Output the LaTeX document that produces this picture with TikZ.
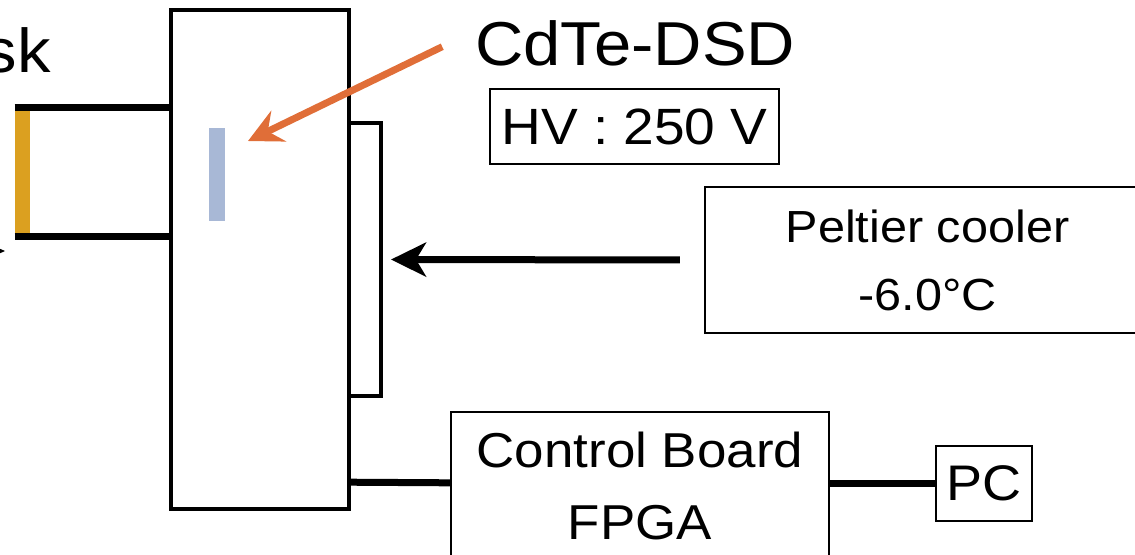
\documentclass[tikz,border=0pt]{standalone}
\usepackage{fontspec}
\setmainfont[FakeStretch=1.08]{Liberation Sans}
\usetikzlibrary{arrows.meta,calc}
\definecolor{WindowGold}{RGB}{219,160,32}
\definecolor{SensorBlue}{RGB}{168,184,214}
\definecolor{PointerOrange}{RGB}{224,110,56}

\begin{document}
\begin{tikzpicture}[x=0.5pt,y=-0.5pt,
  box/.style={draw,line width=1.2pt,inner sep=0pt,align=center},
  wire/.style={line width=3.5pt}]
\useasboundingbox (0,0) rectangle (1135,554);
\clip (0,0) rectangle (1135,554);
\node[draw,line width=2.2pt,minimum width=89pt,minimum height=249.5pt] (mainbox) at (260,259.5) {};
\node[draw,line width=2pt,minimum width=16pt,minimum height=136.5pt] (plate) at (365,259.5) {};
\node[fill=WindowGold,inner sep=0pt,minimum width=7.5pt,minimum height=64pt] (window) at (22.5,172) {};
\node[fill=SensorBlue,inner sep=0pt,minimum width=8pt,minimum height=46.5pt] (dsd) at (217,174.5) {};
\coordinate (dsdtip) at (248,141);
\node[anchor=base east,inner sep=0pt,font=\fontsize{31}{37}\selectfont] (mask) at (51,72) {sk};
\node[inner sep=0pt,font=\fontsize{31}{37}\selectfont] (cdte) at (635,43) {CdTe-DSD};
\node[box,minimum width=144.5pt,minimum height=37.5pt,font=\fontsize{25.5}{30}\selectfont] (hv) at (634.5,126.5) {HV : 250 V};
\node[box,minimum width=222.5pt,minimum height=73pt,font=\fontsize{22.5}{34}\selectfont] (cooler) at (927.5,260) {Peltier cooler\\-6.0°C};
\node[box,minimum width=189pt,minimum height=74pt,font=\fontsize{24.5}{36}\selectfont] (board) at (640,486) {Control Board\\FPGA};
\node[box,minimum width=48pt,minimum height=37.5pt,font=\fontsize{25}{30}\selectfont] (pc) at (984,483.5) {PC};
\draw[wire] (window.north west) -- (window.north west -| mainbox.west);
\draw[wire] (window.south west) -- (window.south west -| mainbox.west);
\fill (-4,247) -- (5,251) -- (-4,255) -- cycle;
\draw[wire,PointerOrange,-{Stealth[length=17pt,width=17pt,inset=6pt]},shorten <=18pt] ([yshift=6pt]cdte.west) -- (dsdtip);
\draw[wire,-{Stealth[length=17.5pt,width=17pt,inset=5pt]},shorten <=12pt,shorten >=4pt] (cooler.west) -- (plate.east);
\draw[wire] ($(mainbox.south east)+(0,-29)$) -- ($(board.north west)+(0,72)$);
\draw[wire] (board.east |- pc.west) -- (pc.west);
\end{tikzpicture}
\end{document}
